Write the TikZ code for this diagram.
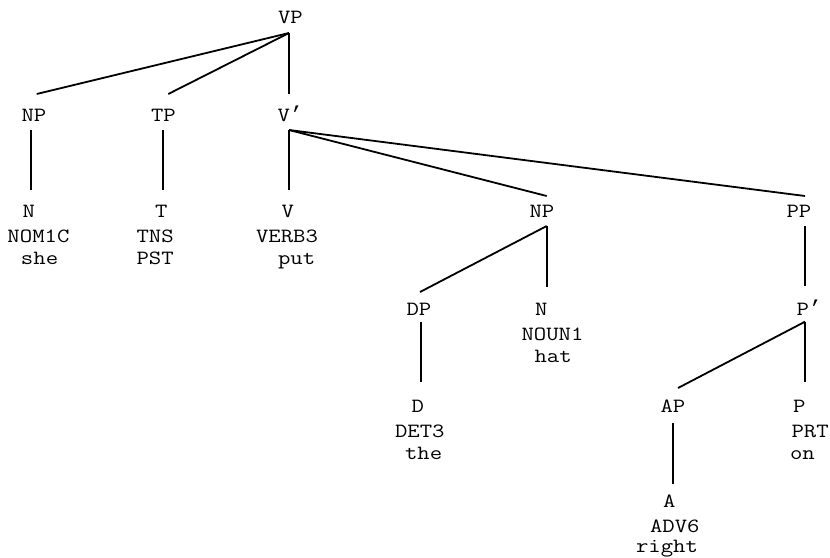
\documentclass[tikz,border=0pt]{standalone}
\usepackage{fontspec}
\newfontfamily\cour{Latin Modern Mono}[FakeStretch=1.19]
\newfontfamily\primefont{Liberation Mono}
\newcommand\pr{{\primefont\fontsize{21.5}{25}\selectfont ’}}
\newcommand\treelines[7]{\vtop{\offinterlineskip
  \hbox{\hspace*{#1pt}\smash{#2}}\vskip25pt
  \hbox{\hspace*{#3pt}\smash{#4}}\vskip#7pt
  \hbox{\hspace*{#5pt}\smash{#6}}}}
\begin{document}
\begin{tikzpicture}[x=1pt,y=-1pt,
  cat/.style={anchor=base west,inner sep=0pt,outer sep=0pt,
    font=\cour\fontsize{20.2}{25}\selectfont},
  edge/.style={line width=1.8pt,black}]
\useasboundingbox (0,0) rectangle (830,557);
% row 0
\node[cat] (VP) at (278,23.5) {VP};
% row 1
\node[cat] (NP1) at (21.5,121) {NP};
\node[cat] (TP) at (151,121) {TP};
\node[cat] (Vbar) at (277.5,121) {V\pr};
% row 2
\node[cat] (N1) at (7.5,217) {\treelines{15}{N}{0}{NOM1C}{13.5}{she}{22.5}};
\node[cat] (T) at (136.5,217) {\treelines{18.5}{T}{0}{TNS}{0}{PST}{22.5}};
\node[cat] (V) at (256,217) {\treelines{25.7}{V}{0}{VERB3}{22}{put}{22.5}};
\node[cat] (NP2) at (529.5,217) {NP};
\node[cat] (PP) at (786.5,217) {PP};
% row 3
\node[cat] (DP) at (406.5,315) {DP};
\node[cat] (N2) at (521.5,315) {\treelines{13.5}{N}{0}{NOUN1}{13}{hat}{22.5}};
\node[cat] (Pbar) at (796.5,315) {P\pr};
% row 4
\node[cat] (D) at (395,412) {\treelines{16.7}{D}{0}{DET3}{10}{the}{22.5}};
\node[cat] (AP) at (660.5,412) {AP};
\node[cat] (P) at (790,412) {\treelines{3}{P}{1.5}{PRT}{0}{on}{22.5}};
% row 5
\node[cat] (A) at (636,507) {\treelines{27}{A}{14}{ADV6}{0}{right}{20.5}};
% connectors
\draw[edge] ([shift={(11,9.5)}]VP.base west) -- ([shift={(15.2,-27)}]NP1.base west);
\draw[edge] ([shift={(11,9.5)}]VP.base west) -- ([shift={(17.3,-27)}]TP.base west);
\draw[edge] ([shift={(11,9.5)}]VP.base west) -- ([shift={(11.5,-27)}]Vbar.base west);
\draw[edge] ([shift={(9.5,9)}]NP1.base west) -- ([shift={(23.5,-27)}]N1.base west);
\draw[edge] ([shift={(12,9)}]TP.base west) -- ([shift={(26.5,-27)}]T.base west);
\draw[edge] ([shift={(11.5,9)}]Vbar.base west) -- ([shift={(33,-27)}]V.base west);
\draw[edge] ([shift={(11.5,9)}]Vbar.base west) -- ([shift={(17.2,-21)}]NP2.base west);
\draw[edge] ([shift={(11.5,9)}]Vbar.base west) -- ([shift={(18.5,-21)}]PP.base west);
\draw[edge] ([shift={(17.2,9)}]NP2.base west) -- ([shift={(13.5,-23)}]DP.base west);
\draw[edge] ([shift={(17.2,9)}]NP2.base west) -- ([shift={(25.2,-28)}]N2.base west);
\draw[edge] ([shift={(18.5,9)}]PP.base west) -- ([shift={(8.5,-29)}]Pbar.base west);
\draw[edge] ([shift={(14.5,6.7)}]DP.base west) -- ([shift={(26,-30.3)}]D.base west);
\draw[edge] ([shift={(8.5,6.7)}]Pbar.base west) -- ([shift={(17.5,-24)}]AP.base west);
\draw[edge] ([shift={(8.5,6.7)}]Pbar.base west) -- ([shift={(15,-30.3)}]P.base west);
\draw[edge] ([shift={(12.5,11)}]AP.base west) -- ([shift={(37,-23)}]A.base west);
\end{tikzpicture}
\end{document}
